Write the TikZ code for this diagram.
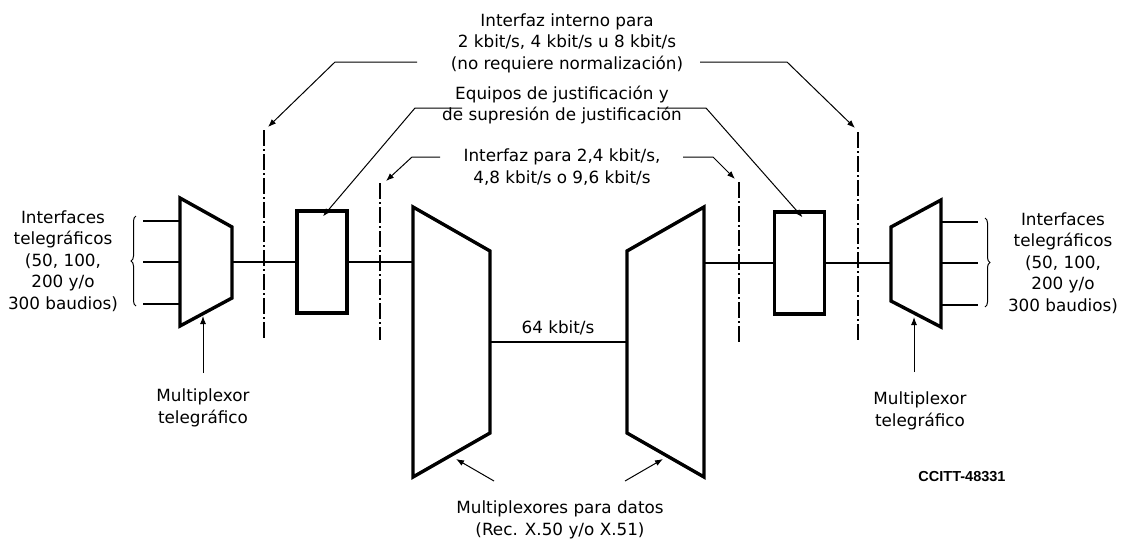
\documentclass[tikz,border=0pt]{standalone}
\usepackage{fontspec}
\setmainfont{DejaVu Sans}
\newfontfamily\libsans{Liberation Sans}
\usetikzlibrary{arrows.meta,decorations.pathreplacing}
\begin{document}
\begin{tikzpicture}[x=1pt,y=-1pt,
  heavy/.style={line width=3.4pt, line join=miter},
  wire/.style={line width=1.3pt},
  dd/.style={line width=1.6pt, dash pattern=on 16pt off 3pt on 2pt off 3pt},
  lead/.style={line width=1pt, -{Latex[length=8pt,width=6pt]}},
  lbl/.style={font=\fontsize{16.8}{21.5}\selectfont, align=center, inner sep=0pt},
  boxst/.style={draw, line width=3.4pt, minimum width=50pt, minimum height=102pt, inner sep=0pt},
  brc/.style={decorate, decoration={brace, amplitude=5pt}, line width=1pt}]

\useasboundingbox (0,0) rectangle (1127,542);

% ---- telegraph multiplexers
\draw[heavy] (180,198) -- (232,227) -- (232,298) -- (180,326) -- cycle;
\draw[heavy] (891,227) -- (941,200) -- (941,327) -- (891,301) -- cycle;
% ---- data multiplexers
\draw[heavy] (413,207) -- (490,251) -- (490,433) -- (413,477) -- cycle;
\draw[heavy] (627,251) -- (704,207) -- (704,477) -- (627,433) -- cycle;

% ---- justification boxes
\node[boxst] (boxL) at (322,262) {};
\node[boxst] (boxR) at (799.5,263) {};

% ---- connection coordinates
\coordinate (mLout) at (232,262);
\coordinate (dLin) at (413,262);
\coordinate (dLout) at (490,342);
\coordinate (dRin) at (627,342);
\coordinate (dRout) at (704,263);
\coordinate (mRin) at (891,263);

\draw[wire] (mLout) -- (boxL.west |- mLout);
\draw[wire] (boxL.east |- dLin) -- (dLin);
\draw[wire] (dLout) -- (dRin);
\draw[wire] (dRout) -- (boxR.west |- dRout);
\draw[wire] (boxR.east |- mRin) -- (mRin);

% ---- telegraph inputs
\coordinate (iL1) at (143,221); \coordinate (iL2) at (143,262); \coordinate (iL3) at (143,304);
\draw[wire] (iL1) -- (180,221);
\draw[wire] (iL2) -- (180,262);
\draw[wire] (iL3) -- (180,304);
\coordinate (iR1) at (978,222); \coordinate (iR2) at (978,263); \coordinate (iR3) at (978,305);
\draw[wire] (941,222) -- (iR1);
\draw[wire] (941,263) -- (iR2);
\draw[wire] (941,305) -- (iR3);
\coordinate (bLb) at (136,306); \coordinate (bLt) at (136,216);
\coordinate (bRt) at (985,218); \coordinate (bRb) at (985,307);
\draw[brc] (bLb) -- (bLt);
\draw[brc] (bRt) -- (bRb);

% ---- dash-dot interface lines
\coordinate (ddA1) at (264,130); \coordinate (ddA2) at (264,340);
\coordinate (ddB1) at (380,183); \coordinate (ddB2) at (380,340);
\coordinate (ddC1) at (739,182); \coordinate (ddC2) at (739,342);
\coordinate (ddD1) at (858,132); \coordinate (ddD2) at (858,342);
\draw[dd] (ddA1) -- (ddA2);
\draw[dd] (ddB1) -- (ddB2);
\draw[dd] (ddC1) -- (ddC2);
\draw[dd] (ddD1) -- (ddD2);

% ---- texts
\node[lbl] (tTop) at (567,43) {Interfaz interno para\\2 kbit/s, 4 kbit/s u 8 kbit/s\\(no requiere normalización)};
\node[lbl] (tEq) at (562,105) {Equipos de justificación y\\de supresión de justificación};
\node[lbl] (tIf) at (562,167) {Interfaz para 2,4 kbit/s,\\4,8 kbit/s o 9,6 kbit/s};
\node[lbl] (tInL) at (63,261) {Interfaces\\telegráficos\\(50, 100,\\200 y/o\\300 baudios)};
\node[lbl] (tInR) at (1063,263) {Interfaces\\telegráficos\\(50, 100,\\200 y/o\\300 baudios)};
\node[lbl] (t64) at (558,328) {64 kbit/s};
\node[lbl] (tMuxL) at (203,408) {Multiplexor\\telegráfico};
\node[lbl] (tMuxR) at (920,411) {Multiplexor\\telegráfico};
\node[lbl] (tData) at (560,520) {Multiplexores para datos\\(Rec. X.50 y/o X.51)};
\node[inner sep=0pt, font=\libsans\bfseries\fontsize{14.5}{16}\selectfont] (tCC) at (962,477) {CCITT-48331};

% ---- leaders
\coordinate (lA0) at (417,62); \coordinate (lA1) at (335,62); \coordinate (lA2) at (268,127);
\draw[lead] (lA0) -- (lA1) -- (lA2);
\coordinate (lD0) at (700,62); \coordinate (lD1) at (787,62); \coordinate (lD2) at (855,128);
\draw[lead] (lD0) -- (lD1) -- (lD2);
\coordinate (lE0) at (462,108); \coordinate (lE1) at (415,108);
\draw[lead] (lE0) -- (lE1) -- ([xshift=1pt,yshift=-7pt]boxL.north);
\coordinate (lF0) at (658,108); \coordinate (lF1) at (706,108);
\draw[lead] (lF0) -- (lF1) -- ([xshift=3pt,yshift=-7pt]boxR.north);
\coordinate (lB0) at (440,157); \coordinate (lB1) at (412,157); \coordinate (lB2) at (386,181);
\draw[lead] (lB0) -- (lB1) -- (lB2);
\coordinate (lC0) at (683,157); \coordinate (lC1) at (713,157); \coordinate (lC2) at (735,179);
\draw[lead] (lC0) -- (lC1) -- (lC2);

% ---- multiplexer pointers
\coordinate (pL0) at (203,373); \coordinate (pL1) at (203,316);
\draw[lead] (pL0) -- (pL1);
\coordinate (pR0) at (914,372); \coordinate (pR1) at (914,317);
\draw[lead] (pR0) -- (pR1);
\coordinate (pD0) at (494,481); \coordinate (pD1) at (456,459);
\draw[lead] (pD0) -- (pD1);
\coordinate (pE0) at (625,481); \coordinate (pE1) at (663,459);
\draw[lead] (pE0) -- (pE1);
\end{tikzpicture}
\end{document}
